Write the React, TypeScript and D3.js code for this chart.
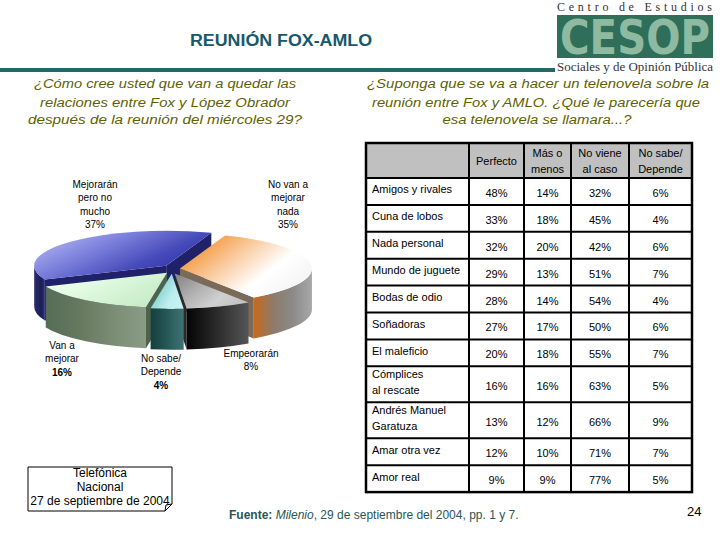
import React from "react";
import * as d3 from "d3";

// ---------- DATA ----------
const pieCategories = [
  "No van a mejorar nada",
  "Empeorarán",
  "No sabe/ Depende",
  "Van a mejorar",
  "Mejorarán pero no mucho",
];
const pieValues = [35, 8, 4, 16, 37];
const pieLabelLines = [
  ["No van a", "mejorar", "nada"],
  ["Empeorarán"],
  ["No sabe/", "Depende"],
  ["Van a", "mejorar"],
  ["Mejorarán", "pero no", "mucho"],
];

const novelas = [
  ["Amigos y rivales"],
  ["Cuna de lobos"],
  ["Nada personal"],
  ["Mundo de juguete"],
  ["Bodas de odio"],
  ["Soñadoras"],
  ["El maleficio"],
  ["Cómplices", "al rescate"],
  ["Andrés Manuel", "Garatuza"],
  ["Amar otra vez"],
  ["Amor real"],
];
const columnHeaders = [["Perfecto"], ["Más o", "menos"], ["No viene", "al caso"], ["No sabe/", "Depende"]];
const perfecto = [48, 33, 32, 29, 28, 27, 20, 16, 13, 12, 9];
const masOMenos = [14, 18, 20, 13, 14, 17, 18, 16, 12, 10, 9];
const noViene = [32, 45, 42, 51, 54, 50, 55, 63, 66, 71, 77];
const noSabe = [6, 4, 6, 7, 4, 6, 7, 5, 9, 7, 5];

// ---------- STYLE ----------
const sliceStyle = [
  { top: ["#f08a1e", "#f9c594", "#ffffff", "#f2f2f2"], wall: ["#c8691c", "#8e7a6a", "#8a8a8a", "#a8a8a8"], cut: "#7a6a5a" },
  { top: ["#8a8a8a", "#b0b0b0", "#d0d0d0", "#c0c0c0"], wall: ["#050505", "#1e1e1e", "#3a3a3a", "#555555"], cut: "#2a2a2a" },
  { top: ["#5fbcbc", "#8fd6d6", "#bdeeee", "#c8f2f2"], wall: ["#163f3f", "#1f4f4f", "#2f6262", "#3f7272"], cut: "#1a4646" },
  { top: ["#f0fff0", "#e2fbe2", "#d2f2d2", "#c4eac4"], wall: ["#566c56", "#65795f", "#7a8d74", "#8a9c86"], cut: "#4e634e" },
  { top: ["#b4b8f2", "#7c80dc", "#4448b8", "#2a2d9c"], wall: ["#2a2d70", "#22255e", "#1c1f55", "#2c2f78"], cut: "#1f2268" },
];
const labelPos = [
  { x: 288, y: 188, boldPct: false },
  { x: 251, y: 357, boldPct: false },
  { x: 161, y: 362, boldPct: true },
  { x: 62, y: 349, boldPct: true },
  { x: 95, y: 188, boldPct: false },
];

const sans = "'Liberation Sans', Arial, sans-serif";
const serif = "'Liberation Serif', 'Times New Roman', serif";

function PieChart3D() {
  const cx = 172, cy = 269, rx = 132, ry = 35, depth = 41, explode = 8;
  const arcs = d3
    .pie<number>()
    .sort(null)
    .startAngle((20 * Math.PI) / 180)
    .endAngle((380 * Math.PI) / 180)(pieValues);

  const slices = arcs.map((a, i) => {
    const mid = (a.startAngle + a.endAngle) / 2;
    const ox = explode * Math.sin(mid);
    const oy = -explode * Math.cos(mid) * 0.6;
    const P = (ang: number, dz = 0): [number, number] => [
      cx + ox + rx * Math.sin(ang),
      cy + oy - ry * Math.cos(ang) + dz,
    ];
    const C = (dz = 0): [number, number] => [cx + ox, cy + oy + dz];
    const a0 = a.startAngle, a1 = a.endAngle;
    const large = a1 - a0 > Math.PI ? 1 : 0;
    const p0 = P(a0), p1 = P(a1), c = C();
    const top = `M${c[0]},${c[1]}L${p0[0]},${p0[1]}A${rx},${ry} 0 ${large} 1 ${p1[0]},${p1[1]}Z`;

    const walls: string[] = [];
    [[Math.PI / 2, (3 * Math.PI) / 2], [Math.PI / 2 + 2 * Math.PI, (3 * Math.PI) / 2 + 2 * Math.PI]].forEach(([lo, hi]) => {
      const s = Math.max(a0, lo), e = Math.min(a1, hi);
      if (e > s) {
        const ps = P(s), pe = P(e), pe2 = P(e, depth), ps2 = P(s, depth);
        walls.push(
          `M${ps[0]},${ps[1]}A${rx},${ry} 0 0 1 ${pe[0]},${pe[1]}L${pe2[0]},${pe2[1]}A${rx},${ry} 0 0 0 ${ps2[0]},${ps2[1]}Z`
        );
      }
    });
    const cuts: string[] = [];
    const cd = C(depth);
    if (Math.sin(a0) < 0) {
      const q = P(a0, depth);
      cuts.push(`M${c[0]},${c[1]}L${p0[0]},${p0[1]}L${q[0]},${q[1]}L${cd[0]},${cd[1]}Z`);
    }
    if (Math.sin(a1) > 0) {
      const q = P(a1, depth);
      cuts.push(`M${c[0]},${c[1]}L${p1[0]},${p1[1]}L${q[0]},${q[1]}L${cd[0]},${cd[1]}Z`);
    }
    return { i, top, walls, cuts, depthKey: cy + oy - ry * Math.cos(mid) };
  });
  const order = [...slices].sort((a, b) => a.depthKey - b.depthKey);

  return (
    <g>
      <defs>
        {sliceStyle.map((s, i) => (
          <React.Fragment key={i}>
            <linearGradient id={`top${i}`} x1="0" y1="0.2" x2="1" y2="0.8">
              {s.top.map((col, k) => (
                <stop key={k} offset={k / (s.top.length - 1)} stopColor={col} />
              ))}
            </linearGradient>
            <linearGradient id={`wall${i}`} x1="0" y1="0" x2="1" y2="0">
              {s.wall.map((col, k) => (
                <stop key={k} offset={k / (s.wall.length - 1)} stopColor={col} />
              ))}
            </linearGradient>
          </React.Fragment>
        ))}
      </defs>
      {order.map((s) => s.cuts.map((d, k) => <path key={`c${s.i}${k}`} d={d} fill={sliceStyle[s.i].cut} />))}
      {order.map((s) => s.walls.map((d, k) => <path key={`w${s.i}${k}`} d={d} fill={`url(#wall${s.i})`} />))}
      {order.map((s) => (
        <path key={`t${s.i}`} d={s.top} fill={`url(#top${s.i})`} />
      ))}
      {pieCategories.map((cat, i) => {
        const lp = labelPos[i];
        const lines = pieLabelLines[i];
        return (
          <text key={cat} x={lp.x} y={lp.y} textAnchor="middle" fontFamily={sans} fontSize={10} fill="#000">
            {lines.map((l, k) => (
              <tspan key={k} x={lp.x} dy={k === 0 ? 0 : 13.3}>
                {l}
              </tspan>
            ))}
            <tspan x={lp.x} dy={13.3} fontWeight={lp.boldPct ? "bold" : "normal"}>
              {pieValues[i]}%
            </tspan>
          </text>
        );
      })}
    </g>
  );
}

function Table() {
  const colWidths = [103, 55, 47, 58, 63];
  const x0 = 366;
  const colX = colWidths.reduce<number[]>((acc, w) => [...acc, acc[acc.length - 1] + w], [x0]);
  const headerTop = 143, headerBottom = 178;
  const rowH = (n: number) => (n === 1 ? 26.9 : 36);
  const rowY = novelas.reduce<number[]>((acc, l) => [...acc, acc[acc.length - 1] + rowH(l.length)], [headerBottom]);
  const bottom = rowY[rowY.length - 1];
  const right = colX[colX.length - 1];
  const series = [perfecto, masOMenos, noViene, noSabe];
  return (
    <g fontFamily={sans} fontSize={11} fill="#000">
      <rect x={x0} y={headerTop} width={right - x0} height={headerBottom - headerTop} fill="#c0c0c0" />
      {columnHeaders.map((h, j) => {
        const cxm = (colX[j + 1] + colX[j + 2]) / 2;
        const midY = (headerTop + headerBottom) / 2;
        return h.map((line, k) => (
          <text key={`${j}-${k}`} x={cxm} y={midY + 4 + (k - (h.length - 1) / 2) * 16} textAnchor="middle" fill="#000">
            {line}
          </text>
        ));
      })}
      {novelas.map((lines, r) => {
        const top = rowY[r];
        const h = rowY[r + 1] - top;
        return (
          <g key={r}>
            {lines.map((l, k) => (
              <text key={k} x={x0 + 6} y={top + h / 2 + 2 + (k - (lines.length - 1) / 2) * 16} fill="#000">
                {l}
              </text>
            ))}
            {series.map((s, j) => (
              <text key={j} x={(colX[j + 1] + colX[j + 2]) / 2} y={top + h / 2 + 5.5} textAnchor="middle" fill="#000">
                {s[r]}%
              </text>
            ))}
          </g>
        );
      })}
      {rowY.slice(0, -1).map((y, k) => (
        <line key={`h${k}`} x1={x0} x2={right} y1={y} y2={y} stroke="#000" strokeWidth={2} />
      ))}
      {colX.slice(1, -1).map((x, k) => (
        <line key={`v${k}`} x1={x} x2={x} y1={headerTop} y2={bottom} stroke="#000" strokeWidth={2} />
      ))}
      <rect x={x0} y={headerTop} width={right - x0} height={bottom - headerTop} fill="none" stroke="#000" strokeWidth={2.5} />
    </g>
  );
}

export default function App() {
  return (
    <svg width={720} height={540} style={{ position: "absolute", left: 0, top: 0, background: "#fff" }}>
      <rect width={720} height={540} fill="#fff" />
      {/* title */}
      <text x={281} y={46} textAnchor="middle" fontFamily={sans} fontWeight="bold" fontSize={16} fill="#17586a" textLength={182} lengthAdjust="spacingAndGlyphs">
        REUNIÓN FOX-AMLO
      </text>
      <rect x={0} y={68} width={555} height={4} fill="#1f6a68" />
      {/* logo */}
      <text x={557} y={11} fontFamily={serif} fontSize={12} fill="#333" textLength={155} lengthAdjust="spacing">
        Centro de Estudios
      </text>
      <rect x={557} y={15} width={156} height={43} fill="#2f6e58" />
      <text transform="translate(560,54) scale(1,1.25)" x={0} y={0} fontFamily={"'DejaVu Sans', sans-serif"} fontWeight="bold" fontSize={38} fill="#8fbaa2" textLength={150} lengthAdjust="spacingAndGlyphs">
        CESOP
      </text>
      <text x={557} y={71} fontFamily={serif} fontSize={12} fill="#333" textLength={156} lengthAdjust="spacingAndGlyphs">
        Sociales y de Opinión Pública
      </text>
      {/* questions */}
      <g fontFamily={sans} fontStyle="italic" fontSize={12.5} fill="#5f5f00" textAnchor="middle">
        <text x={165} y={88} textLength={262} lengthAdjust="spacingAndGlyphs">¿Cómo cree usted que van a quedar las</text>
        <text x={165} y={107} textLength={250} lengthAdjust="spacingAndGlyphs">relaciones entre Fox y López Obrador</text>
        <text x={165} y={124} textLength={274} lengthAdjust="spacingAndGlyphs">después de la reunión del miércoles 29?</text>
        <text x={538} y={88} textLength={342} lengthAdjust="spacingAndGlyphs">¿Suponga que se va  a hacer un telenovela sobre la</text>
        <text x={536} y={107} textLength={328} lengthAdjust="spacingAndGlyphs">reunión entre Fox y AMLO. ¿Qué le parecería que</text>
        <text x={537} y={124} textLength={189} lengthAdjust="spacingAndGlyphs">esa telenovela se llamara...?</text>
      </g>
      <PieChart3D />
      <Table />
      {/* Telefónica box */}
      <path d="M28,467 H172 V504 L165,511 H28 Z" fill="#fff" stroke="#000" strokeWidth={1} />
      <path d="M172,504 L166,505 L165,511" fill="none" stroke="#000" strokeWidth={1} />
      <g fontFamily={sans} fontSize={12} fill="#000" textAnchor="middle">
        <text x={100} y={477}>Telefónica</text>
        <text x={100} y={491}>Nacional</text>
        <text x={100} y={505}>27 de septiembre de 2004</text>
      </g>
      {/* source */}
      <text x={229} y={519} fontFamily={sans} fontSize={12} fill="#2a5656">
        <tspan fontWeight="bold">Fuente: </tspan>
        <tspan fontStyle="italic">Milenio</tspan>
        <tspan>, 29 de septiembre del 2004, pp. 1 y 7.</tspan>
      </text>
      <text x={687} y={516} fontFamily={sans} fontSize={13} fill="#000">
        24
      </text>
    </svg>
  );
}
